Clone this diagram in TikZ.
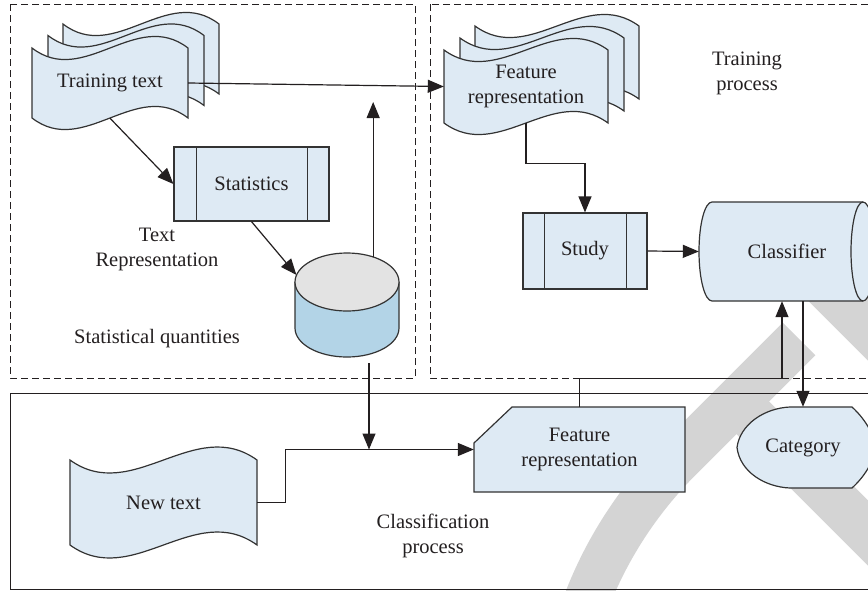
\documentclass[tikz,border=0pt]{standalone}
\usepackage{fontspec}
\setmainfont{Liberation Serif}
\usetikzlibrary{arrows.meta,calc,shapes.geometric}
\pgfdeclarelayer{wm}
\pgfdeclarelayer{bg}
\pgfsetlayers{wm,bg,main}
\definecolor{boxfill}{HTML}{DEEAF4}
\definecolor{edge}{HTML}{333333}
\definecolor{dbbody}{HTML}{B3D4E7}
\definecolor{dbtopc}{HTML}{E3E3E3}
\definecolor{band}{HTML}{D4D4D4}
\definecolor{ink}{HTML}{231F20}

\tikzset{
  shapeline/.style={draw=edge, fill=boxfill, line width=1.2pt},
  procbox/.style={shapeline, rectangle, inner sep=0pt},
  lbl/.style={font=\fontsize{20.5}{25}\selectfont, text=ink, align=center, inner sep=0pt},
  arr/.style={draw=ink, line width=1.2pt, -{Triangle[length=16pt,width=13pt]}},
  panel/.style={draw=ink, line width=1pt},
  dashpanel/.style={panel, dash pattern=on 7pt off 4pt},
  bandstroke/.style={draw=band, line width=46pt},
  innerline/.style={draw=edge, line width=1.2pt},
}

% wavy document: left, top, width, height, bend
\newcommand\wavedoc[5]{%
  \filldraw[shapeline] (#1,#2) .. controls ({#1+#3/3},{#2+#5}) and ({#1+2*#3/3},{#2-#5}) .. ({#1+#3},#2)
    -- ({#1+#3},{#2+#4}) .. controls ({#1+2*#3/3},{#2+#4-#5}) and ({#1+#3/3},{#2+#4+#5}) .. (#1,{#2+#4}) -- cycle;}

\begin{document}
\begin{tikzpicture}[x=1pt,y=-1pt]
\useasboundingbox (0,0) rectangle (868,590);
\clip (0,0) rectangle (868,590);

% grey background strokes
\begin{pgfonlayer}{wm}
  \clip (0,0) rectangle (868,590);
  \draw[bandstroke] (584,608) .. controls (604.5,551.6) and (637.6,500.4) .. (680,458) -- (799,339);
  \draw[bandstroke] (736.5,401.5) -- (930,595);
  \draw[bandstroke] (770,230) -- (930,390);
\end{pgfonlayer}

% shape outlines
\begin{pgfonlayer}{bg}
  \clip (0,0) rectangle (868,590);
  % training text stack
  \wavedoc{63}{24}{156}{70}{40}
  \wavedoc{48}{35.5}{156}{70}{40}
  \wavedoc{32}{48}{156}{70}{40}
  % feature representation stack
  \wavedoc{475}{26}{164}{73}{40}
  \wavedoc{460}{38}{164}{73}{40}
  \wavedoc{444}{50}{164}{73}{40}
  % new text
  \wavedoc{70}{460}{187}{85}{45}
  % database cylinder
  \fill[dbbody] (295,282) -- (295,328) arc[start angle=180, end angle=0, x radius=52, y radius=29] -- (399,282) -- cycle;
  \draw[innerline] (295,282) -- (295,328) arc[start angle=180, end angle=0, x radius=52, y radius=29] -- (399,282);
  \filldraw[fill=dbtopc, draw=edge, line width=1.2pt] (347,282) ellipse [x radius=52, y radius=29];
  % classifier drum
  \filldraw[shapeline] (712,202) -- (863,202) arc[start angle=270, end angle=450, x radius=12, y radius=49.5]
    -- (712,301) arc[start angle=90, end angle=270, x radius=13, y radius=49.5] -- cycle;
  \draw[innerline] (863,202) arc[start angle=270, end angle=90, x radius=12, y radius=49.5];
  % category display
  \filldraw[shapeline] (790,407) -- (852,407) .. controls (864,418) and (874,433) .. (875,447.5)
    .. controls (874,462) and (864,477) .. (852,488) -- (790,488)
    .. controls (765,487) and (740,472) .. (737,447.5)
    .. controls (740,424) and (765,408) .. (790,407) -- cycle;
  % feature representation card
  \filldraw[shapeline] (474,443) -- (512,407) -- (685,407) -- (685,492) -- (474,492) -- cycle;
\end{pgfonlayer}

% panels
\draw[dashpanel] (10,4) rectangle (415,378);
\draw[dashpanel] (430,4) rectangle (880,378);
\draw[panel] (10,393) rectangle (880,589);

% nodes
\node[lbl, minimum width=156, minimum height=70] (train) at (110,83) {Training text};
\node[lbl, minimum width=164, minimum height=73] (featA) at (526,86.5) {Feature\\representation};
\node[procbox, lbl, minimum width=155, minimum height=74] (stat) at (251.5,184) {Statistics};
\draw[innerline] ([xshift=23pt]stat.north west) -- ([xshift=23pt]stat.south west);
\draw[innerline] ([xshift=-22pt]stat.north east) -- ([xshift=-22pt]stat.south east);
\node[procbox, lbl, minimum width=124, minimum height=76] (study) at (585,251) {Study};
\draw[innerline] ([xshift=22pt]study.north west) -- ([xshift=22pt]study.south west);
\draw[innerline] ([xshift=-21pt]study.north east) -- ([xshift=-21pt]study.south east);
\node[ellipse, minimum width=104, minimum height=58, inner sep=0pt] (dbtop) at (347,282) {};
\node[lbl, minimum width=176, minimum height=99] (clf) at (787,251.5) {Classifier};
\node[lbl, minimum width=132, minimum height=81] (cat) at (803,447.5) {Category};
\node[lbl, minimum width=211, minimum height=85] (featB) at (579.5,449.5) {Feature\\representation};
\node[lbl, minimum width=187, minimum height=85] (newtext) at (163.5,502.5) {New text};

\node[lbl] (lblTR) at (157,249) {Text\\Representation};
\node[lbl] (lblSQ) at (157,339) {Statistical quantities};
\node[lbl] (lblTP) at (747,73) {Training\\process};
\node[lbl] (lblCP) at (433,536) {Classification\\process};

\coordinate (upend) at (373,102);
\coordinate (dbfoot) at (369,363);

% connectors
\draw[arr] (train.east) -- (featA.west);
\draw[arr] (train.south) -- (stat.west);
\draw[arr] (stat.south) -- (dbtop.172);
\draw[arr] (dbtop.44) -- (dbtop.44 |- upend);
\draw[arr] (dbfoot) -- (dbfoot |- featB.west);
\draw[arr] (newtext.east) -- ++(28,0) |- (featB.west);
\draw[arr] (featA.south) -- ++(0,40) -| (study.north);
\draw[arr] (study.east) -- (clf.west);
\draw[arr] (featB.north) -- ++(0,-28) -| ([xshift=-5pt]clf.south);
\draw[arr] (clf.south -| cat.north) -- (cat.north);
\end{tikzpicture}
\end{document}
